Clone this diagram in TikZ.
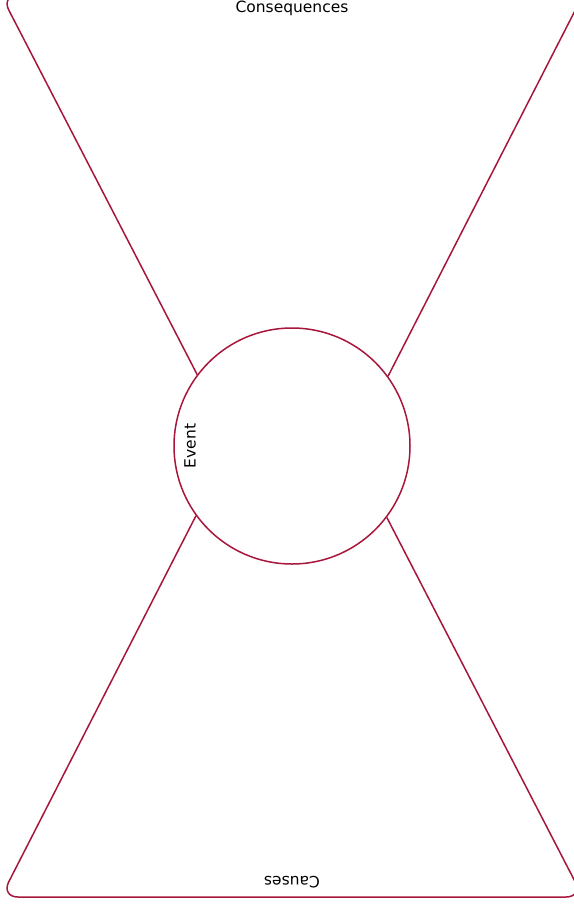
\documentclass[tikz,border=0pt]{standalone}
\usepackage{fontspec}
\setmainfont{DejaVu Sans}
\usepackage{xcolor}
\usetikzlibrary{positioning}
\definecolor{bowred}{RGB}{168,22,60}

\begin{document}
\begin{tikzpicture}[x=1pt, y=-1pt, font=\fontsize{15.5}{18}\selectfont,
    bowline/.style={draw=bowred, line width=1.5pt, rounded corners=17pt},
    eventcircle/.style={circle, draw=bowred, line width=1.5pt, minimum size=236pt, inner sep=0pt}]
  % 1 pt = 1 px of the reference
  \useasboundingbox (0,0) rectangle (573,913);
  \node[eventcircle] (event) at (292,446) {};
  \node[rotate=90] (eventlbl) at (190,446) {Event};
  % corners of the bow tie
  \coordinate (tl) at (1,-5);
  \coordinate (tr) at (583,-5);
  \coordinate (bl) at (1,897);
  \coordinate (br) at (583,897);
  \draw[bowline] (event.143.2) -- (tl) -- (tr) -- (event.36.8);
  \draw[bowline] (event.216.8) -- (bl) -- (br) -- (event.323.2);
  \node (conseq) at (292,8.5) {Consequences};
  \node[rotate=180] (causes) at (292,882.5) {Causes};
\end{tikzpicture}
\end{document}
